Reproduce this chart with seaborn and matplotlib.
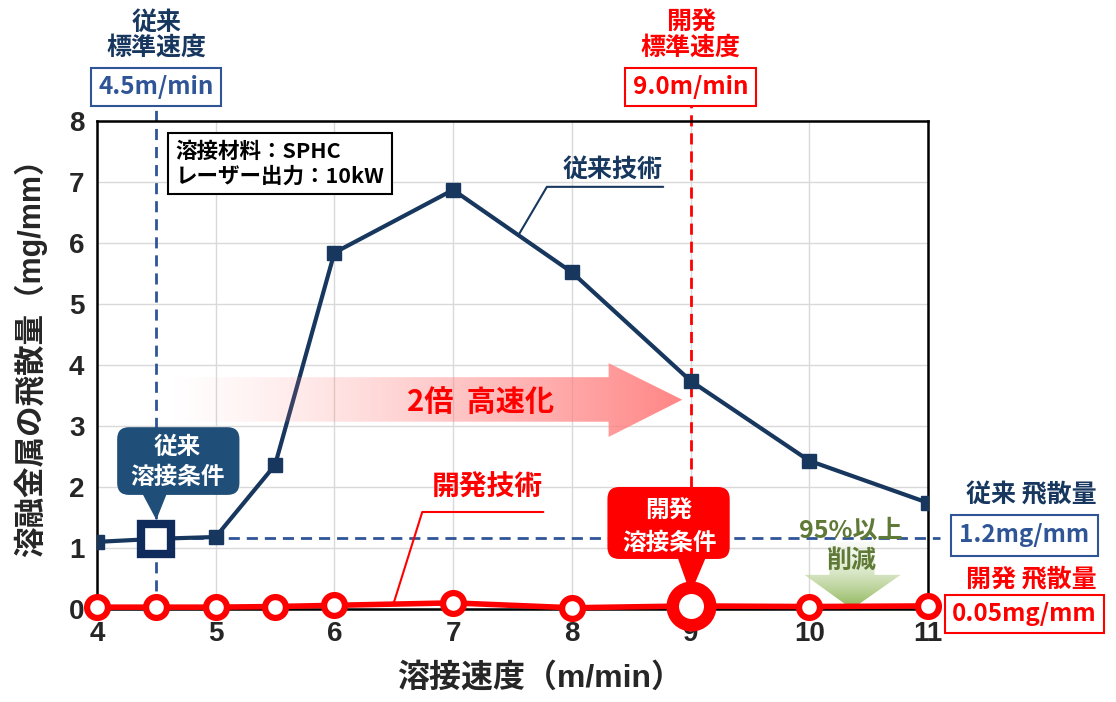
import numpy as np
import matplotlib.pyplot as plt
import seaborn as sns
from matplotlib.patches import Polygon, FancyBboxPatch

# データ
speed = [4, 4.5, 5, 5.5, 6, 7, 8, 9, 10, 11]
conv = [1.10, 1.15, 1.18, 2.36, 5.84, 6.87, 5.52, 3.74, 2.43, 1.74]   # 従来技術
dev = [0.03, 0.03, 0.03, 0.04, 0.06, 0.10, 0.02, 0.05, 0.04, 0.05]    # 開発技術
x_ticks = [4, 5, 6, 7, 8, 9, 10, 11]
y_ticks = [0, 1, 2, 3, 4, 5, 6, 7, 8]
conv_speed, dev_speed = 4.5, 9.0
conv_level = 1.17

sns.set_style('white')
plt.rcParams['font.family'] = ['Noto Sans CJK JP', 'DejaVu Sans']

NAVY = '#17375E'
BLUE = '#2F5597'
RED = '#FF0000'
OLIVE = '#5F7A36'
LAT = ['Liberation Sans', 'Noto Sans CJK JP']

fig = plt.figure(figsize=(11.16, 7.02), dpi=100)
ax = fig.add_axes([0.0869, 0.1325, 0.7446, 0.6952])

# 補助線
ax.plot([conv_speed, conv_speed], [0, 8.25], color=BLUE, lw=2,
        ls=(0, (4, 2.5)), clip_on=False, zorder=2)
ax.plot([dev_speed, dev_speed], [2.0, 8.25], color=RED, lw=2,
        ls=(0, (4, 2.5)), clip_on=False, zorder=2)
ax.plot([conv_speed, 11.1], [conv_level, conv_level], color=BLUE, lw=2,
        ls=(0, (4, 2.5)), clip_on=False, zorder=2)

# 系列
sns.lineplot(x=speed, y=conv, ax=ax, color=NAVY, linewidth=3, marker='s',
             markersize=10, markeredgecolor=NAVY, markeredgewidth=1, zorder=4)
sns.lineplot(x=speed, y=dev, ax=ax, color=RED, linewidth=4, marker='o',
             markersize=15, markerfacecolor='white', markeredgecolor=RED,
             markeredgewidth=4.5, clip_on=False, zorder=5)
ax.plot([speed[1]], [conv[1]], marker='s', ms=22, mfc='white', mec='#0F2B5B',
        mew=6, zorder=9)
ax.plot([speed[7]], [dev[7]], marker='o', ms=27, mfc='white', mec=RED,
        mew=9, clip_on=False, zorder=9)

# 2倍 高速化 の矢印 (グラデーション)
verts = [(4.57, 3.07), (8.31, 3.07), (8.31, 2.82), (8.93, 3.43),
         (8.31, 4.03), (8.31, 3.80), (4.57, 3.80)]
poly = Polygon(verts, closed=True, fc='none', ec='none')
ax.add_patch(poly)
t = np.linspace(0, 1, 256)
rgba = np.zeros((1, 256, 4))
rgba[..., 0] = 1
rgba[..., 1] = 0.5
rgba[..., 2] = 0.5
rgba[..., 3] = t ** 1.3 * 0.95
im = ax.imshow(rgba, extent=[4.57, 8.93, 2.82, 4.03], aspect='auto',
               zorder=6, interpolation='bilinear')
im.set_clip_path(poly)
ax.text(7.23, 3.40, '2倍  高速化', color=RED, fontsize=21, weight='bold',
        ha='center', va='center', zorder=7)

# 95%以上削減 の矢印
gverts = [(10.17, 1.10), (10.55, 1.10), (10.55, 0.56), (10.77, 0.56),
          (10.36, 0.0), (9.96, 0.56), (10.17, 0.56)]
gpoly = Polygon(gverts, closed=True, fc='none', ec='none')
ax.add_patch(gpoly)
g = np.zeros((256, 1, 4))
g[:, 0, 0] = np.linspace(0.93, 0.55, 256)
g[:, 0, 1] = np.linspace(0.96, 0.71, 256)
g[:, 0, 2] = np.linspace(0.90, 0.33, 256)
g[:, 0, 3] = np.linspace(0.3, 1.0, 256)
gim = ax.imshow(g, extent=[9.96, 10.77, 0.0, 1.10], aspect='auto',
                zorder=3, interpolation='bilinear')
gim.set_clip_path(gpoly)
ax.text(10.35, 1.28, '95%以上', color=OLIVE, fontsize=18, weight='bold',
        ha='center', va='center', zorder=7)
ax.text(10.35, 0.79, '削減', color=OLIVE, fontsize=18, weight='bold',
        ha='center', va='center', zorder=7)

# 吹き出し
asp = 1.95
ax.add_patch(FancyBboxPatch((4.17, 1.87), 1.03, 1.11,
                            boxstyle='round,pad=0,rounding_size=0.1',
                            mutation_aspect=asp, fc='#1F4E79', ec='none',
                            zorder=8))
ax.add_patch(Polygon([(4.38, 1.90), (4.59, 1.90), (4.5, 1.46)],
                     closed=True, fc='#1F4E79', ec='none', zorder=8))
ax.text(4.68, 2.66, '従来', color='white', fontsize=17, weight='bold',
        ha='center', va='center', zorder=10)
ax.text(4.68, 2.16, '溶接条件', color='white', fontsize=17, weight='bold',
        ha='center', va='center', zorder=10)

ax.add_patch(FancyBboxPatch((8.30, 0.82), 1.03, 1.18,
                            boxstyle='round,pad=0,rounding_size=0.1',
                            mutation_aspect=asp, fc=RED, ec='none', zorder=8))
ax.add_patch(Polygon([(8.89, 0.85), (9.13, 0.85), (9.0, 0.25)],
                     closed=True, fc=RED, ec='none', zorder=8))
ax.text(8.82, 1.62, '開発', color='white', fontsize=17, weight='bold',
        ha='center', va='center', zorder=10)
ax.text(8.82, 1.08, '溶接条件', color='white', fontsize=17, weight='bold',
        ha='center', va='center', zorder=10)

# 系列ラベル
ax.text(8.34, 7.20, '従来技術', color=NAVY, fontsize=18, weight='bold',
        ha='center', va='center')
ax.plot([7.56, 7.79, 8.77], [6.16, 6.92, 6.92], color=NAVY, lw=1.5, zorder=3)
ax.text(7.29, 1.98, '開発技術', color=RED, fontsize=20, weight='bold',
        ha='center', va='center')
ax.plot([6.50, 6.74, 7.76], [0.10, 1.59, 1.59], color=RED, lw=1.5, zorder=3)

# 条件ボックス
ax.text(4.66, 7.68, '溶接材料：SPHC\nレーザー出力：10kW', color='black',
        fontsize=15.5, weight='bold', ha='left', va='top', linespacing=1.25,
        bbox=dict(boxstyle='square,pad=0.35', fc='white', ec='black', lw=1.5),
        zorder=7)

# 上部ラベル
ax.text(conv_speed, 9.41, '従来\n標準速度', color=NAVY, fontsize=18,
        weight='bold', ha='center', va='center', linespacing=1.05)
ax.text(conv_speed, 8.56, '4.5m/min', color=BLUE, fontsize=17.5, weight='bold',
        ha='center', va='center',
        bbox=dict(boxstyle='square,pad=0.3', fc='white', ec=BLUE, lw=1.5))
ax.text(dev_speed, 9.41, '開発\n標準速度', color=RED, fontsize=18,
        weight='bold', ha='center', va='center', linespacing=1.05)
ax.text(dev_speed, 8.56, '9.0m/min', color=RED, fontsize=17.5, weight='bold',
        ha='center', va='center',
        bbox=dict(boxstyle='square,pad=0.3', fc='white', ec=RED, lw=1.5))

# 右側ラベル
ax.text(11.87, 1.87, '従来 飛散量', color=NAVY, fontsize=18, weight='bold',
        ha='center', va='center')
ax.text(11.81, 1.21, '1.2mg/mm', color=BLUE, fontsize=17.5, weight='bold',
        ha='center', va='center',
        bbox=dict(boxstyle='square,pad=0.35', fc='white', ec=BLUE, lw=1.5))
ax.text(11.87, 0.48, '開発 飛散量', color=RED, fontsize=18, weight='bold',
        ha='center', va='center')
ax.text(11.81, -0.08, '0.05mg/mm', color=RED, fontsize=17.5, weight='bold',
        ha='center', va='center',
        bbox=dict(boxstyle='square,pad=0.3', fc='white', ec=RED, lw=1.5))

# 軸
ax.set_xlim(4, 11)
ax.set_ylim(0, 8)
ax.set_xticks(x_ticks)
ax.set_yticks(y_ticks)
ax.tick_params(length=0, labelsize=20, pad=9)
for lab in ax.get_xticklabels() + ax.get_yticklabels():
    lab.set_fontfamily('Liberation Sans')
    lab.set_fontweight('bold')
ax.grid(True, color='#D9D9D9', lw=1)
ax.set_axisbelow(True)
for s in ax.spines.values():
    s.set_color('black')
    s.set_linewidth(1.8)

ax.set_xlabel('溶接速度（m/min）', fontsize=23, fontweight='bold', family=LAT)
ax.xaxis.set_label_coords(0.533, -0.11)
ax.set_ylabel('溶融金属の飛散量（mg/mm）', fontsize=22, fontweight='bold',
              family=LAT)
ax.yaxis.set_label_coords(-0.06, 0.53)

fig.savefig('out.png', dpi=100)
